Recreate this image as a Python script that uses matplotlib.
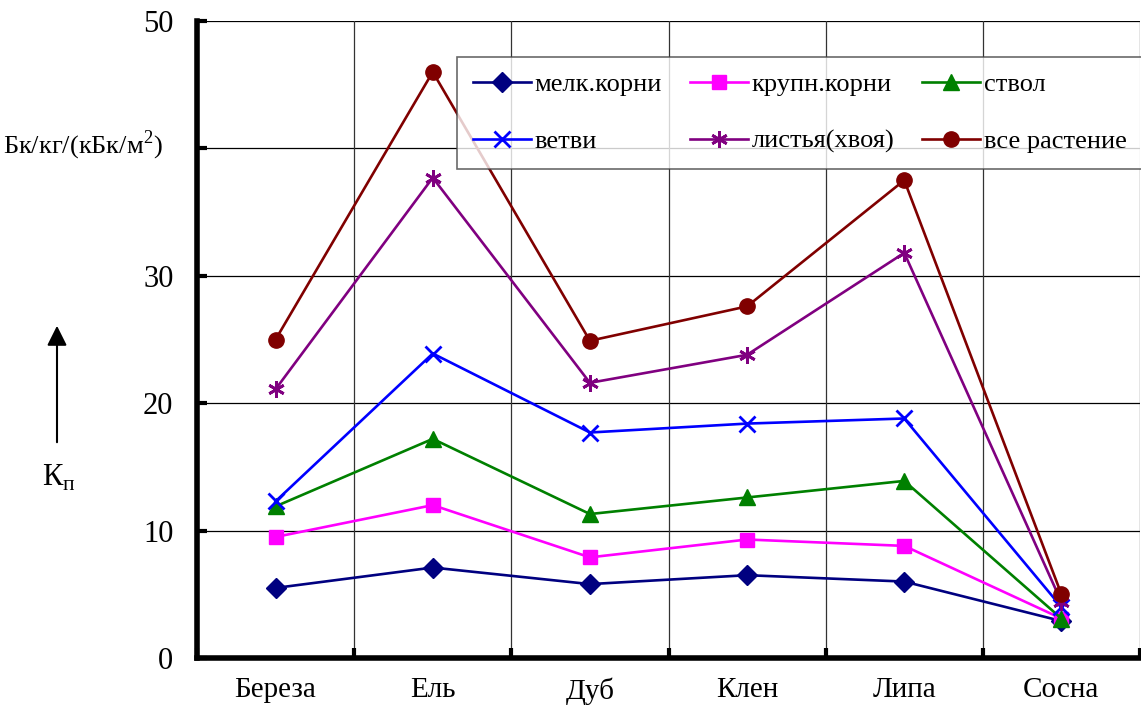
import matplotlib
matplotlib.use("Agg")
import matplotlib.pyplot as plt

plt.rcParams['font.family'] = ['Liberation Serif', 'DejaVu Serif']

categories = ["Береза", "Ель", "Дуб", "Клен", "Липа", "Сосна"]
melk_korni = [5.5, 7.1, 5.8, 6.5, 6.0, 2.9]
krupn_korni = [9.5, 12.0, 7.9, 9.3, 8.8, 3.1]
stvol = [11.9, 17.2, 11.3, 12.6, 13.9, 3.1]
vetvi = [12.3, 23.9, 17.7, 18.4, 18.8, 4.0]
listya = [21.1, 37.7, 21.6, 23.8, 31.8, 4.4]
vse = [25.0, 46.0, 24.9, 27.6, 37.5, 5.0]
y_ticks = [0, 10, 20, 30, 40, 50]
y_tick_labels = ["0", "10", "20", "30", "", "50"]

series = [
    ("мелк.корни", melk_korni, "#000080", "D", 10),
    ("крупн.корни", krupn_korni, "#FF00FF", "s", 10),
    ("ствол", stvol, "#008000", "^", 11),
    ("ветви", vetvi, "#0000FF", "x", 11),
    ("листья(хвоя)", listya, "#800080", (6, 2, 0), 12),
    ("все растение", vse, "#800000", "o", 11),
]

fig = plt.figure(figsize=(11.41, 7.06), dpi=100)
ax = fig.add_axes([197/1141, 1-658/706, (1140-197)/1141, (658-21)/706])

x = list(range(len(categories)))
handles = []
for name, vals, col, mk, ms in series:
    kw = dict(markeredgecolor=col, markerfacecolor=col)
    if mk == "x" or isinstance(mk, tuple):
        kw['markeredgewidth'] = 2
    h, = ax.plot(x, vals, color=col, lw=1.9, marker=mk, markersize=ms, label=name,
                 clip_on=False, **kw)
    handles.append(h)

ax.set_xlim(-0.5, 5.5)
ax.set_ylim(0, 50)
ax.set_yticks(y_ticks)
ax.set_yticklabels(y_tick_labels)
ax.set_xticks(x)
ax.set_xticklabels(categories)
ax.set_xticks([i + 0.5 for i in range(-1, 6)], minor=True)
ax.tick_params(axis='x', which='major', length=0, pad=14, labelsize=21)
ax.tick_params(axis='x', which='minor', direction='in', length=7, width=3)
ax.tick_params(axis='y', which='major', direction='in', length=7, width=3, pad=17, labelsize=22)

for y in range(10, 51, 10):
    ax.axhline(y, color='black', lw=0.9, zorder=0)
for xv in [0.5, 1.5, 2.5, 3.5, 4.5, 5.5]:
    ax.axvline(xv, color='#333333', lw=0.9, zorder=0)

ax.spines['left'].set_linewidth(4)
ax.spines['bottom'].set_linewidth(4)
ax.spines['top'].set_visible(False)
ax.spines['right'].set_visible(False)

# legend filled row-wise: reorder handles for column-major filling
order = [0, 3, 1, 4, 2, 5]
leg = ax.legend([handles[i] for i in order], [series[i][0] for i in order],
                loc='upper left', ncol=3,
                bbox_to_anchor=(457/1141, 1-57/706),
                bbox_transform=fig.transFigure, fontsize=19, frameon=True,
                fancybox=False, edgecolor='#444444', handlelength=2.2, handletextpad=0.15,
                columnspacing=1.05, borderaxespad=0, labelspacing=1.25, borderpad=0.6)
leg.get_frame().set_linewidth(1.2)

fig.text(3/1141, 1-145/706, "Бк/кг/(кБк/м$^\\mathregular{2}$)", fontsize=19, va='center', ha='left')
fig.text(59/1141, 1-478/706, "К$_\\mathregular{п}$", fontsize=22, va='center', ha='center')
fig.add_artist(matplotlib.patches.FancyArrowPatch((57/1141, 1-445/706), (57/1141, 1-323/706),
               transform=fig.transFigure, arrowstyle='-|>,head_length=8,head_width=4',
               color='black', lw=1.5, mutation_scale=1.5))

fig.savefig("out.png", dpi=100)
